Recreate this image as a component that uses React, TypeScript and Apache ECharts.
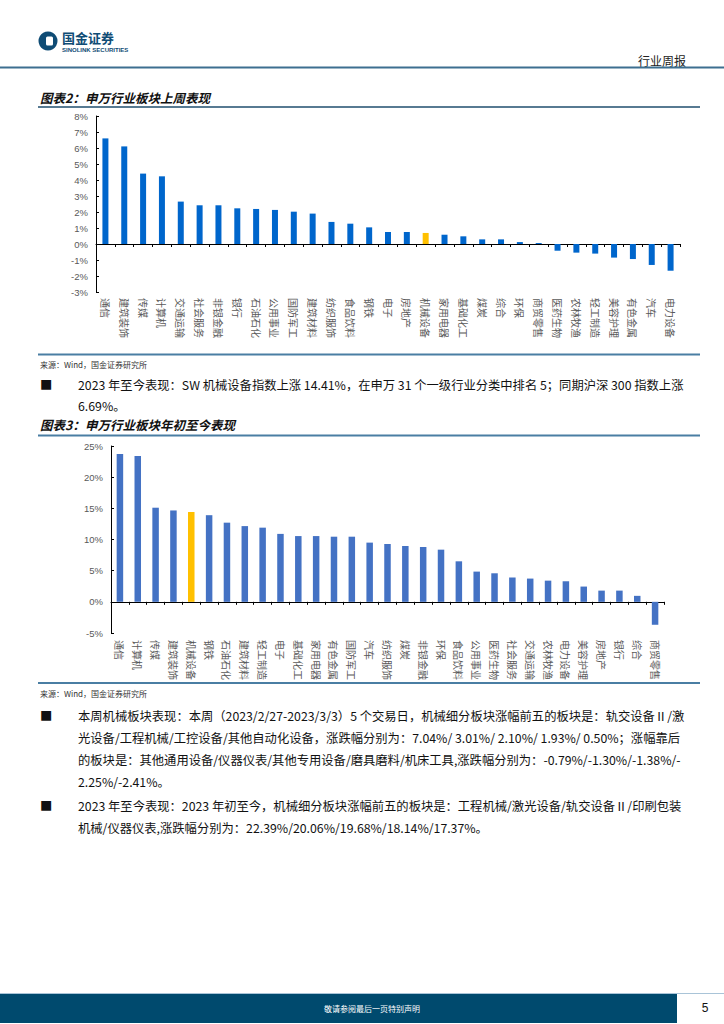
import React, { useEffect, useRef } from "react";
import * as echarts from "echarts";

const weekCategories = [
  "通信", "建筑装饰", "传媒", "计算机", "交通运输", "社会服务", "非银金融", "银行",
  "石油石化", "公用事业", "国防军工", "建筑材料", "纺织服饰", "食品饮料", "钢铁", "电子",
  "房地产", "机械设备", "家用电器", "基础化工", "煤炭", "综合", "环保", "商贸零售",
  "医药生物", "农林牧渔", "轻工制造", "美容护理", "有色金属", "汽车", "电力设备",
];
const weekValues = [
  6.6, 6.1, 4.4, 4.23, 2.65, 2.42, 2.42, 2.23,
  2.19, 2.13, 2.02, 1.9, 1.38, 1.27, 1.04, 0.75,
  0.75, 0.69, 0.58, 0.48, 0.29, 0.29, 0.12, 0.06,
  -0.42, -0.54, -0.6, -0.85, -0.94, -1.31, -1.67,
];

const ytdCategories = [
  "通信", "计算机", "传媒", "建筑装饰", "机械设备", "钢铁", "石油石化", "建筑材料",
  "轻工制造", "电子", "基础化工", "家用电器", "有色金属", "国防军工", "汽车", "纺织服饰",
  "煤炭", "非银金融", "环保", "食品饮料", "公用事业", "医药生物", "社会服务", "交通运输",
  "农林牧渔", "电力设备", "美容护理", "房地产", "银行", "综合", "商贸零售",
];
const ytdValues = [
  23.7, 23.4, 15.1, 14.66, 14.41, 13.9, 12.7, 12.15,
  11.9, 10.9, 10.55, 10.55, 10.45, 10.45, 9.5, 9.28,
  8.96, 8.8, 8.37, 6.5, 4.85, 4.58, 3.9, 3.73,
  3.4, 3.3, 2.45, 1.8, 1.8, 0.96, -3.68,
];

const highlightCategory = "机械设备";

const paragraph1 = [
  "2023 年至今表现：SW 机械设备指数上涨 14.41%，在申万 31 个一级行业分类中排名 5；同期沪深 300 指数上涨",
  "6.69%。",
];
const paragraph2 = [
  "本周机械板块表现：本周（2023/2/27-2023/3/3）5 个交易日，机械细分板块涨幅前五的板块是：轨交设备Ⅱ/激",
  "光设备/工程机械/工控设备/其他自动化设备，涨跌幅分别为：7.04%/ 3.01%/ 2.10%/ 1.93%/ 0.50%；涨幅靠后",
  "的板块是：其他通用设备/仪器仪表/其他专用设备/磨具磨料/机床工具,涨跌幅分别为：-0.79%/-1.30%/-1.38%/-",
  "2.25%/-2.41%。",
];
const paragraph3 = [
  "2023 年至今表现：2023 年初至今，机械细分板块涨幅前五的板块是：工程机械/激光设备/轨交设备Ⅱ/印刷包装",
  "机械/仪器仪表,涨跌幅分别为：22.39%/20.06%/19.68%/18.14%/17.37%。",
];

const CJK = "'Noto Sans CJK SC', 'Liberation Sans', sans-serif";
const AXISFONT = "'Liberation Sans', 'Noto Sans CJK SC', sans-serif";
const BODY = 12.3;

function txt(x: number, y: number, text: string, extra: any = {}) {
  return {
    type: "text",
    x,
    y,
    silent: true,
    style: {
      text,
      fontSize: 12,
      fontFamily: CJK,
      fill: "#111",
      verticalAlign: "middle",
      align: "left",
      ...extra,
    },
  };
}

function hline(x1: number, x2: number, y: number, stroke: string, lineWidth: number) {
  return {
    type: "line",
    silent: true,
    shape: { x1, y1: y, x2, y2: y },
    style: { stroke, lineWidth },
  };
}

function barData(cats: string[], vals: number[], color: string) {
  return vals.map((v, i) => ({
    value: v,
    itemStyle: { color: cats[i] === highlightCategory ? "#FFC000" : color },
  }));
}

function zeroAxis(grid: number, cats: string[]) {
  return {
    type: "category",
    gridIndex: grid,
    data: cats,
    position: "bottom",
    axisLine: { show: true, onZero: true, lineStyle: { color: "#000", width: 1 } },
    axisTick: { show: true, interval: 0, length: 3, lineStyle: { color: "#000" } },
    axisLabel: { show: false },
    splitLine: { show: false },
  };
}

function labelAxis(grid: number, cats: string[], margin: number) {
  return {
    type: "category",
    gridIndex: grid,
    data: cats,
    position: "bottom",
    axisLine: { show: false, onZero: false },
    axisTick: { show: false },
    axisLabel: {
      show: true,
      interval: 0,
      rotate: -90,
      margin,
      fontSize: 10,
      color: "#595959",
      fontFamily: CJK,
    },
    splitLine: { show: false },
  };
}

function valueAxis(grid: number, min: number, max: number, interval: number) {
  return {
    type: "value",
    gridIndex: grid,
    min,
    max,
    interval,
    axisLine: { show: true, lineStyle: { color: "#000", width: 1 } },
    axisTick: { show: true, inside: true, length: 3, lineStyle: { color: "#000" } },
    axisLabel: {
      formatter: "{value}%",
      fontSize: 9.5,
      color: "#595959",
      margin: 8,
      fontFamily: AXISFONT,
    },
    splitLine: { show: false },
  };
}

export default function App() {
  const ref = useRef<HTMLDivElement>(null);

  useEffect(() => {
    if (!ref.current) return;
    const chart = echarts.init(ref.current, null, { renderer: "svg" });

    const graphics: any[] = [];
    // header
    graphics.push({
      type: "circle",
      silent: true,
      shape: { cx: 48, cy: 41, r: 9.5 },
      style: { fill: "#0f4c75" },
    });
    graphics.push({
      type: "rect",
      silent: true,
      shape: { x: 46, y: 36.5, width: 7, height: 9, r: 1.5 },
      style: { fill: "#fff" },
    });
    graphics.push(txt(62, 37, "国金证券", { fontSize: 13, fontWeight: "bold", fill: "#0f4c75" }));
    graphics.push(txt(62, 50, "SINOLINK SECURITIES", {
      fontSize: 6, fontWeight: "bold", fill: "#0f4c75", fontFamily: "'Liberation Sans', sans-serif",
    }));
    graphics.push(txt(686, 60, "行业周报", { fontSize: 12, align: "right", fill: "#222" }));
    graphics.push(hline(0, 724, 67.5, "#3d6f90", 2));

    // chart 1 title
    graphics.push(txt(40, 97, "图表2：申万行业板块上周表现", {
      fontSize: 12.5, fontWeight: "bold", fontStyle: "italic", fill: "#111",
    }));
    graphics.push(hline(38, 700, 107, "#1f4e6e", 1.5));
    graphics.push(hline(38, 700, 354.5, "#4a7ea3", 2));
    graphics.push(txt(40, 364, "来源：Wind，国金证券研究所", { fontSize: 8, fill: "#333" }));

    // paragraph 1
    graphics.push(txt(40, 385, "■", { fontSize: BODY }));
    graphics.push(txt(78, 385, paragraph1[0], { fontSize: BODY }));
    graphics.push(txt(78, 406, paragraph1[1], { fontSize: BODY }));

    // chart 2 title
    graphics.push(txt(40, 424, "图表3：申万行业板块年初至今表现", {
      fontSize: 12.5, fontWeight: "bold", fontStyle: "italic", fill: "#111",
    }));
    graphics.push(hline(38, 700, 435.5, "#4a7ea3", 2));
    graphics.push(hline(38, 700, 683, "#4a7ea3", 2));
    graphics.push(txt(40, 693, "来源：Wind，国金证券研究所", { fontSize: 8, fill: "#333" }));

    // paragraph 2
    const p2y = [716, 738, 760, 782];
    graphics.push(txt(40, p2y[0], "■", { fontSize: BODY }));
    paragraph2.forEach((line, i) => graphics.push(txt(78, p2y[i], line, { fontSize: BODY })));
    const p3y = [806, 828];
    graphics.push(txt(40, p3y[0], "■", { fontSize: BODY }));
    paragraph3.forEach((line, i) => graphics.push(txt(78, p3y[i], line, { fontSize: BODY })));

    // footer
    graphics.push(hline(0, 724, 993.5, "#a9c4d8", 1));
    graphics.push({
      type: "rect",
      silent: true,
      shape: { x: 0, y: 994, width: 677, height: 29 },
      style: { fill: "#004a6e" },
    });
    graphics.push(txt(372, 1008, "敬请参阅最后一页特别声明", { fontSize: 8, fill: "#fff", align: "center" }));
    graphics.push(txt(705, 1008, "5", { fontSize: 12, fill: "#111", align: "center", fontFamily: "'Liberation Sans', sans-serif" }));

    const option: any = {
      animation: false,
      backgroundColor: "#fff",
      grid: [
        { left: 96, top: 116, width: 584, height: 176, containLabel: false },
        { left: 111, top: 446, width: 553, height: 187, containLabel: false },
      ],
      xAxis: [
        zeroAxis(0, weekCategories),
        labelAxis(0, weekCategories, 6),
        zeroAxis(1, ytdCategories),
        labelAxis(1, ytdCategories, 7),
      ],
      yAxis: [valueAxis(0, -3, 8, 1), valueAxis(1, -5, 25, 5)],
      series: [
        {
          type: "bar",
          xAxisIndex: 0,
          yAxisIndex: 0,
          barWidth: 6,
          data: barData(weekCategories, weekValues, "#0066cc"),
        },
        {
          type: "bar",
          xAxisIndex: 2,
          yAxisIndex: 1,
          barWidth: 6.5,
          data: barData(ytdCategories, ytdValues, "#4472c4"),
        },
      ],
      graphic: graphics,
    };

    chart.setOption(option);
    return () => chart.dispose();
  }, []);

  return (
    <div
      ref={ref}
      style={{ position: "absolute", left: 0, top: 0, width: 724, height: 1024, background: "#fff" }}
    />
  );
}
